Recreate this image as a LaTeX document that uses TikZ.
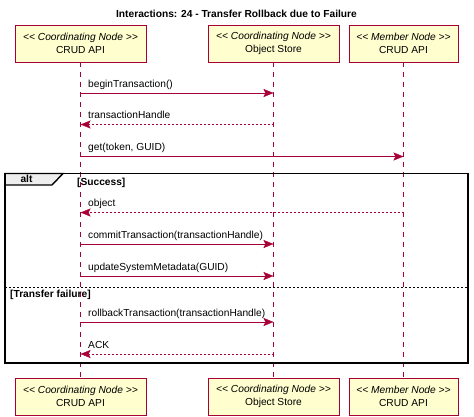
\documentclass[tikz,border=0pt]{standalone}
\usepackage{fontspec}
\newfontfamily\umlfont{Liberation Sans}
\usetikzlibrary{arrows.meta,positioning}

\definecolor{umlred}{HTML}{A80036}
\definecolor{umlbox}{HTML}{FEFECE}
\definecolor{umltab}{HTML}{EEEEEE}

\begin{document}
\begin{tikzpicture}[x=1pt, y=-1pt,
    font=\umlfont\fontsize{10.2}{12.4}\selectfont,
    actor/.style = {rectangle, draw=umlred, fill=umlbox, align=center, minimum height=37pt, inner sep=0pt},
    lifeline/.style = {umlred, dash pattern=on 5pt off 5pt},
    msg/.style = {umlred, -{Stealth[length=10pt, width=8pt, inset=2pt]}},
    reply/.style = {msg, dash pattern=on 2pt off 2pt},
    lbl/.style = {anchor=base west, inner sep=0pt, xshift=7.5pt, yshift=6pt, text=black},
    guard/.style = {anchor=base west, inner sep=0pt, font=\umlfont\fontsize{10.2}{12.4}\selectfont\bfseries}
]
\useasboundingbox (0,0) rectangle (474,416);

% Title
\node (title) [anchor=base, inner sep=0pt, font=\umlfont\fontsize{10.2}{12.4}\selectfont\bfseries] at (236.5,17) {Interactions: 24 - Transfer Rollback due to Failure};

% Participants
\node (crudT) [actor, minimum width=131pt] at (80.5,43.5) {{\itshape << Coordinating Node >>}\\CRUD API};
\node (storeT) [actor, minimum width=131pt] at (273.5,43.5) {{\itshape << Coordinating Node >>}\\Object Store};
\node (memberT) [actor, minimum width=109pt] at (403.5,43.5) {{\itshape << Member Node >>}\\CRUD API};
\node (crudB) [actor, minimum width=131pt] at (80.5,396.5) {{\itshape << Coordinating Node >>}\\CRUD API};
\node (storeB) [actor, minimum width=131pt] at (273.5,396.5) {{\itshape << Coordinating Node >>}\\Object Store};
\node (memberB) [actor, minimum width=109pt] at (403.5,396.5) {{\itshape << Member Node >>}\\CRUD API};

% Lifelines
\draw [lifeline] (crudT) -- (crudB);
\draw [lifeline] (storeT) -- (storeB);
\draw [lifeline] (memberT) -- (memberB);

% Alt frame
\coordinate (frameNW) at (5,173.5);
\coordinate (frameSE) at (468,363);
\coordinate (split) at (5,287);
\filldraw [fill=umltab, line width=1.4pt] (frameNW) -- (63,173.5) -- (52,185) -- (5,185) -- cycle;
\draw [line width=1.6pt] (frameNW) rectangle (frameSE);
\draw [dash pattern=on 2pt off 2pt] (split) -- (split -| frameSE);
\node (alt) [guard, anchor=base] at (26.5,182.3) {alt};
\node (success) [guard] at (77,185) {[Success]};
\node (failure) [guard] at (10,297) {[Transfer failure]};

% Message rows
\coordinate (m1) at (0,93);
\coordinate (m2) at (0,124.5);
\coordinate (m3) at (0,156.5);
\coordinate (m4) at (0,212.5);
\coordinate (m5) at (0,244);
\coordinate (m6) at (0,276);
\coordinate (m7) at (0,322);
\coordinate (m8) at (0,354);

% Messages
\draw [msg] (crudT |- m1) -- node[lbl, pos=0] {beginTransaction()} (storeT |- m1);
\draw [reply] (storeT |- m2) -- node[lbl, pos=1] {transactionHandle} (crudT |- m2);
\draw [msg] (crudT |- m3) -- node[lbl, pos=0] {get(token, GUID)} (memberT |- m3);
\draw [reply] (memberT |- m4) -- node[lbl, pos=1] {object} (crudT |- m4);
\draw [msg] (crudT |- m5) -- node[lbl, pos=0] {commitTransaction(transactionHandle)} (storeT |- m5);
\draw [msg] (crudT |- m6) -- node[lbl, pos=0] {updateSystemMetadata(GUID)} (storeT |- m6);
\draw [msg] (crudT |- m7) -- node[lbl, pos=0] {rollbackTransaction(transactionHandle)} (storeT |- m7);
\draw [reply] (storeT |- m8) -- node[lbl, pos=1] {ACK} (crudT |- m8);

\end{tikzpicture}
\end{document}
